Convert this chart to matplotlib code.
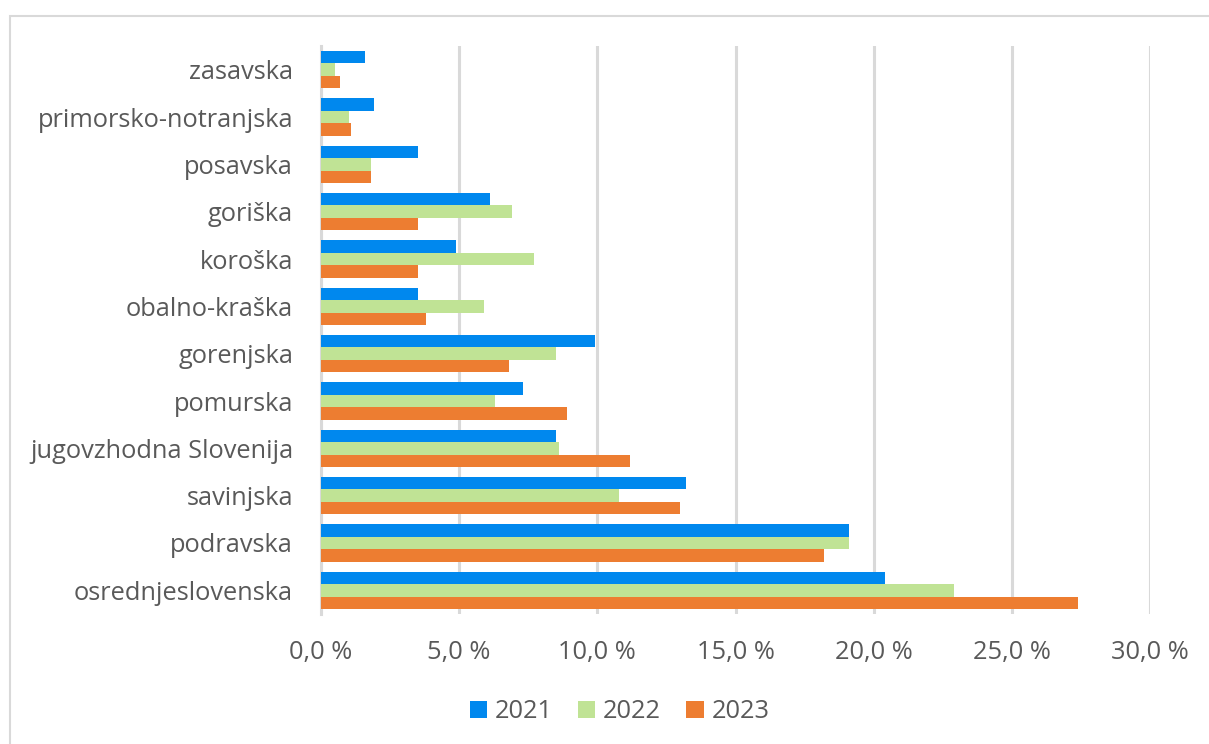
import matplotlib
matplotlib.use("Agg")
import matplotlib.pyplot as plt
from matplotlib.patches import Rectangle
from matplotlib.ticker import FuncFormatter, MultipleLocator
import numpy as np

regions = [
    "zasavska", "primorsko-notranjska", "posavska", "goriška", "koroška",
    "obalno-kraška", "gorenjska", "pomurska", "jugovzhodna Slovenija",
    "savinjska", "podravska", "osrednjeslovenska",
]
share_2021 = [1.6, 1.9, 3.5, 6.1, 4.9, 3.5, 9.9, 7.3, 8.5, 13.2, 19.1, 20.4]
share_2022 = [0.5, 1.0, 1.8, 6.9, 7.7, 5.9, 8.5, 6.3, 8.6, 10.8, 19.1, 22.9]
share_2023 = [0.7, 1.1, 1.8, 3.5, 3.5, 3.8, 6.8, 8.9, 11.2, 13.0, 18.2, 27.4]
years = ["2021", "2022", "2023"]

colors = ["#0088EE", "#C0E395", "#ED7D31"]
text_color = "#595959"
grid_color = "#D9D9D9"

plt.rcParams["font.family"] = ["Open Sans", "DejaVu Sans"]
fs = 18.3

W, H = 1209, 744
fig = plt.figure(figsize=(W / 100, H / 100), dpi=100)
ax = fig.add_axes([321 / W, 1 - 614 / H, (1150 - 321) / W, (614 - 46) / H])

# chart-area frame
fig.patches.append(Rectangle((10 / W, -0.1), 1.2, (H - 16) / H + 0.1,
                             transform=fig.transFigure, fill=False,
                             edgecolor=grid_color, linewidth=1.5))

y = np.arange(len(regions))
h = 0.262
for off, vals, col, lab in zip((-h, 0, h), (share_2021, share_2022, share_2023),
                               colors, years):
    ax.barh(y + off, vals, height=h, color=col, label=lab, zorder=3)

ax.set_ylim(len(regions) - 0.5, -0.5)
ax.set_xlim(0, 30)
ax.xaxis.set_major_locator(MultipleLocator(5))
ax.xaxis.set_major_formatter(FuncFormatter(lambda v, p: f"{v:.1f}".replace(".", ",") + " %"))
ax.grid(axis="x", color=grid_color, linewidth=2.2, zorder=0)
ax.set_axisbelow(True)
for s in ("top", "right", "bottom"):
    ax.spines[s].set_visible(False)
ax.spines["left"].set_color(grid_color)
ax.spines["left"].set_linewidth(2.2)

ax.set_yticks(y)
ax.set_yticklabels(regions)
ax.tick_params(axis="both", length=0, colors=text_color, labelsize=fs)
ax.tick_params(axis="y", pad=20)
ax.tick_params(axis="x", pad=19)

fig.legend(loc="center", bbox_to_anchor=(619.5 / W, 1 - 712 / H), ncol=3,
           frameon=False, fontsize=fs, labelcolor=text_color,
           handlelength=0.68, handleheight=0.68, handletextpad=0.3,
           columnspacing=1.0)

fig.savefig("out.png", dpi=100, facecolor="white")
